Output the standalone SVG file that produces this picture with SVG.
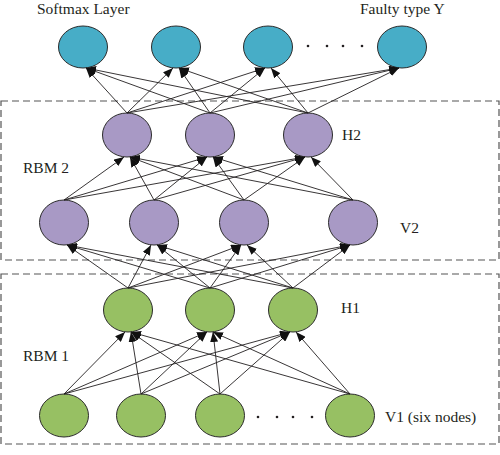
<svg xmlns="http://www.w3.org/2000/svg" width="500" height="455" viewBox="0 0 500 455">
<style>
text{font-family:"Liberation Serif","Times New Roman",serif;font-size:15.5px;fill:#231f20}
.sm{fill:#47adc7;stroke:#2b2b2b;stroke-width:1}
.pu{fill:#a899c5;stroke:#2b2b2b;stroke-width:1}
.gr{fill:#97c063;stroke:#2b2b2b;stroke-width:1}
.box{fill:none;stroke:#555;stroke-width:1.2;stroke-dasharray:7,4}
#edges line{stroke:#231f20;stroke-width:0.9;marker-end:url(#ah)}
.dot{fill:#231f20}
</style>
<defs>
<marker id="ah" markerUnits="userSpaceOnUse" markerWidth="10" markerHeight="8" refX="10" refY="4" orient="auto">
<path d="M0,0 L10,4 L0,8 z" fill="#111"/>
</marker>
</defs>
<rect width="500" height="455" fill="#fff"/>
<g id="rbm2-box"><rect class="box" x="1" y="101" width="498" height="159"/></g>
<g id="rbm1-box"><rect class="box" x="1" y="274" width="498" height="170"/></g>

<g id="softmax">
<ellipse id="y1" class="sm" cx="83" cy="47" rx="24.5" ry="21"/>
<ellipse id="y2" class="sm" cx="176" cy="47" rx="24.5" ry="21"/>
<ellipse id="y3" class="sm" cx="268" cy="47" rx="24.5" ry="21"/>
<ellipse id="y4" class="sm" cx="402" cy="47" rx="24.5" ry="21"/>
<circle class="dot" cx="308" cy="46" r="1.3"/><circle class="dot" cx="327" cy="46" r="1.3"/><circle class="dot" cx="343" cy="46" r="1.3"/><circle class="dot" cx="362" cy="46" r="1.3"/>
</g>
<g id="h2">
<ellipse class="pu" cx="127" cy="135" rx="24.5" ry="22"/>
<ellipse class="pu" cx="210" cy="135" rx="24.5" ry="22"/>
<ellipse class="pu" cx="308" cy="135" rx="24.5" ry="22"/>
</g>
<g id="v2">
<ellipse class="pu" cx="64" cy="222.5" rx="24.5" ry="22.5"/>
<ellipse class="pu" cx="154" cy="222.5" rx="24.5" ry="22.5"/>
<ellipse class="pu" cx="244" cy="222.5" rx="24.5" ry="22.5"/>
<ellipse class="pu" cx="353" cy="222.5" rx="24.5" ry="22.5"/>
</g>
<g id="h1">
<ellipse class="gr" cx="128" cy="310" rx="24.5" ry="22"/>
<ellipse class="gr" cx="210" cy="310" rx="24.5" ry="22"/>
<ellipse class="gr" cx="293" cy="310" rx="24.5" ry="22"/>
</g>
<g id="v1">
<ellipse class="gr" cx="64" cy="415.5" rx="24.5" ry="21.5"/>
<ellipse class="gr" cx="141" cy="415.5" rx="24.5" ry="21.5"/>
<ellipse class="gr" cx="220" cy="415.5" rx="24.5" ry="21.5"/>
<ellipse class="gr" cx="350" cy="415.5" rx="24.5" ry="21.5"/>
<circle class="dot" cx="258" cy="417" r="1.3"/><circle class="dot" cx="277" cy="417" r="1.3"/><circle class="dot" cx="293" cy="417" r="1.3"/><circle class="dot" cx="312" cy="417" r="1.3"/>
</g>

<g id="edges">
<line x1="127" y1="113" x2="86" y2="68"/>
<line x1="127" y1="113" x2="173" y2="68"/>
<line x1="127" y1="113" x2="265" y2="68"/>
<line x1="127" y1="113" x2="399" y2="68"/>
<line x1="210" y1="113" x2="86" y2="68"/>
<line x1="210" y1="113" x2="179" y2="68"/>
<line x1="210" y1="113" x2="265" y2="68"/>
<line x1="210" y1="113" x2="399" y2="68"/>
<line x1="308" y1="113" x2="86" y2="68"/>
<line x1="308" y1="113" x2="179" y2="68"/>
<line x1="308" y1="113" x2="271" y2="68"/>
<line x1="308" y1="113" x2="399" y2="68"/>

<line x1="64" y1="200" x2="124" y2="157"/>
<line x1="64" y1="200" x2="207" y2="157"/>
<line x1="64" y1="200" x2="305" y2="157"/>
<line x1="154" y1="200" x2="130" y2="157"/>
<line x1="154" y1="200" x2="207" y2="157"/>
<line x1="154" y1="200" x2="305" y2="157"/>
<line x1="244" y1="200" x2="130" y2="157"/>
<line x1="244" y1="200" x2="213" y2="157"/>
<line x1="244" y1="200" x2="305" y2="157"/>
<line x1="353" y1="200" x2="130" y2="157"/>
<line x1="353" y1="200" x2="213" y2="157"/>
<line x1="353" y1="200" x2="311" y2="157"/>

<line x1="128" y1="288" x2="67" y2="245"/>
<line x1="128" y1="288" x2="151" y2="245"/>
<line x1="128" y1="288" x2="241" y2="245"/>
<line x1="128" y1="288" x2="350" y2="245"/>
<line x1="210" y1="288" x2="67" y2="245"/>
<line x1="210" y1="288" x2="157" y2="245"/>
<line x1="210" y1="288" x2="241" y2="245"/>
<line x1="210" y1="288" x2="350" y2="245"/>
<line x1="293" y1="288" x2="67" y2="245"/>
<line x1="293" y1="288" x2="157" y2="245"/>
<line x1="293" y1="288" x2="247" y2="245"/>
<line x1="293" y1="288" x2="350" y2="245"/>

<line x1="64" y1="394" x2="125" y2="332"/>
<line x1="64" y1="394" x2="207" y2="332"/>
<line x1="64" y1="394" x2="290" y2="332"/>
<line x1="141" y1="394" x2="131" y2="332"/>
<line x1="141" y1="394" x2="207" y2="332"/>
<line x1="141" y1="394" x2="290" y2="332"/>
<line x1="220" y1="394" x2="131" y2="332"/>
<line x1="220" y1="394" x2="213" y2="332"/>
<line x1="220" y1="394" x2="290" y2="332"/>
<line x1="350" y1="394" x2="131" y2="332"/>
<line x1="350" y1="394" x2="213" y2="332"/>
<line x1="350" y1="394" x2="296" y2="332"/>
</g>

<g id="labels">
<text x="37" y="14">Softmax Layer</text>
<text x="360" y="14">Faulty type Y</text>
<text x="342" y="140">H2</text>
<text x="23" y="173">RBM 2</text>
<text x="400" y="233">V2</text>
<text x="341" y="313">H1</text>
<text x="23" y="361">RBM 1</text>
<text x="385" y="422">V1 (six nodes)</text>
</g>
</svg>
